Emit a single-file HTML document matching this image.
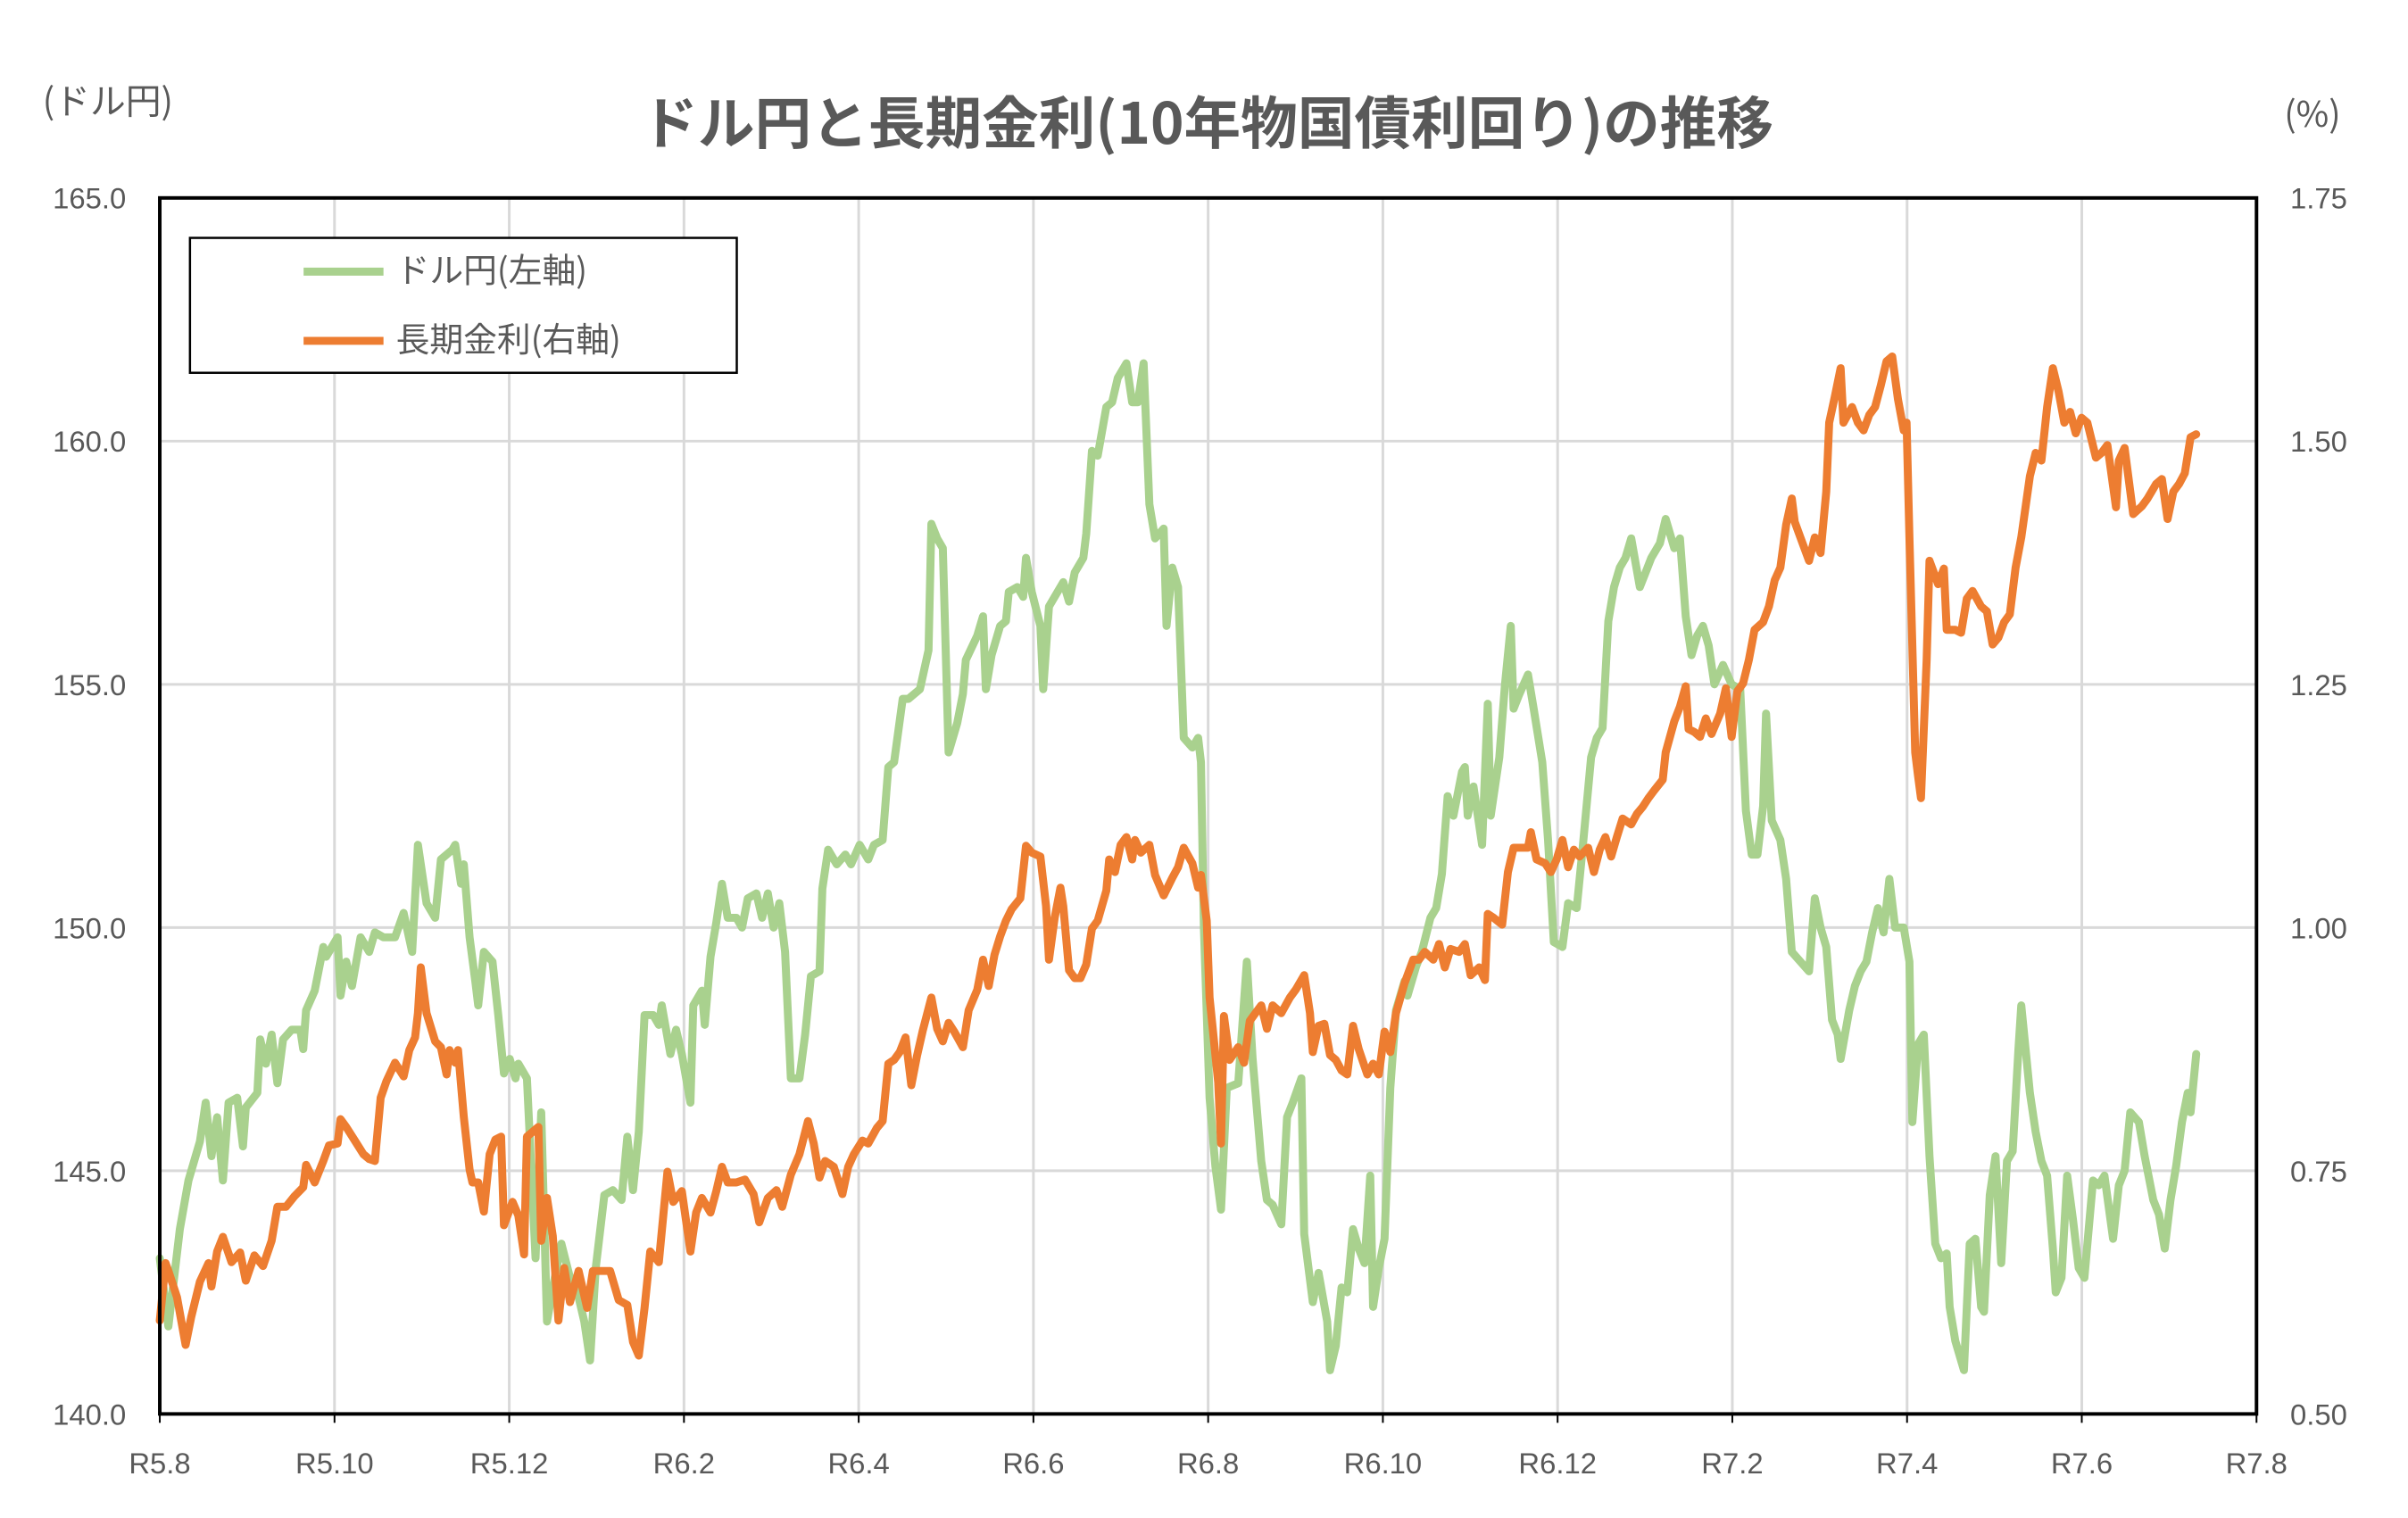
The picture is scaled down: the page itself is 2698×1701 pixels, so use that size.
<!DOCTYPE html>
<html><head><meta charset="utf-8">
<style>
html,body{margin:0;padding:0;background:#fff;}
svg{display:block;font-family:"Liberation Sans","Noto Sans CJK JP",sans-serif;}
</style></head>
<body>
<svg id="chart" width="2698" height="1701" viewBox="0 0 2698 1701" xmlns="http://www.w3.org/2000/svg">
<rect width="2698" height="1701" fill="#ffffff"/>
<g transform="scale(0.9946)">
<text x="1360" y="162" text-anchor="middle" font-size="64" font-weight="bold" fill="#595959" font-family="'Noto Sans CJK JP',sans-serif">ドル円と長期金利(10年物国債利回り)の推移</text>
<text x="48" y="128" font-size="40" fill="#595959" font-family="'Noto Sans CJK JP',sans-serif">(ドル円)</text>
<text x="2637" y="143" text-anchor="end" font-size="40" fill="#595959" font-family="'Noto Sans CJK JP',sans-serif">(%)</text>
<g id="grid"></g>
<g id="series"></g>
<rect x="180" y="223" width="2362" height="1370" fill="none" stroke="#000" stroke-width="4"/>
<g id="axes"></g>
<g>
<rect x="214" y="268" width="616" height="152" fill="#fff" stroke="#000" stroke-width="2.5"/>
<line x1="342" y1="306" x2="432" y2="306" stroke="#a9d18e" stroke-width="9"/>
<text x="446" y="318" font-size="38" fill="#595959" font-family="'Noto Sans CJK JP',sans-serif">ドル円(左軸)</text>
<line x1="342" y1="384" x2="432" y2="384" stroke="#ed7d31" stroke-width="9"/>
<text x="446" y="396" font-size="38" fill="#595959" font-family="'Noto Sans CJK JP',sans-serif">長期金利(右軸)</text>
</g>
</g>
</svg>
<script>
const xLabels=["R5.8","R5.10","R5.12","R6.2","R6.4","R6.6","R6.8","R6.10","R6.12","R7.2","R7.4","R7.6","R7.8"];
const leftTicks=["140.0","145.0","150.0","155.0","160.0","165.0"];
const rightTicks=["0.50","0.75","1.00","1.25","1.50","1.75"];
const totalDays=731;
const yenDays=[0,3,7,10,14,16,18,20,22,24,27,29,30,34,35,37,39,41,43,46,49,50,51,54,57,58,62,63,65,67,70,73,75,78,82,85,88,90,93,96,98,102,103,105,106,108,110,111,113,116,118,120,122,124,125,128,131,133,135,138,140,143,146,148,150,152,155,158,161,163,165,167,169,172,174,175,178,180,182,185,186,189,190,192,194,196,198,201,203,205,208,210,212,214,216,218,220,223,225,227,230,231,233,236,239,241,244,247,249,252,254,256,259,261,265,268,269,271,273,275,278,280,281,285,287,288,290,293,295,296,299,301,302,304,307,308,310,312,315,317,319,322,323,325,327,330,332,334,337,339,341,343,345,347,350,351,353,355,357,360,362,363,364,366,368,370,372,376,379,381,384,386,388,391,393,395,398,399,402,404,407,408,410,412,414,416,418,420,422,423,425,427,429,431,434,435,438,440,443,445,447,449,451,454,455,456,458,461,463,464,467,469,471,472,474,477,479,482,484,486,489,491,494,496,499,501,503,505,507,509,511,513,516,518,520,523,525,528,530,532,534,536,538,540,542,545,548,551,553,555,557,559,560,562,565,567,569,572,575,577,579,581,583,585,586,589,591,593,595,597,599,601,603,605,608,610,611,613,615,617,619,621,623,624,626,629,631,633,635,636,638,640,642,644,646,648,649,652,654,656,658,660,661,663,665,667,669,671,674,676,678,681,683,685,687,690,692,695,697,699,701,703,705,707,708,710];
const yenValues=[143.2,141.8,143.8,144.8,145.6,146.4,145.3,146.1,144.8,146.4,146.5,145.5,146.3,146.6,147.7,147.2,147.8,146.8,147.7,147.9,147.9,147.5,148.3,148.7,149.6,149.4,149.8,148.6,149.3,148.8,149.8,149.5,149.9,149.8,149.8,150.3,149.5,151.7,150.5,150.2,151.4,151.6,151.7,150.9,151.3,149.8,148.9,148.4,149.5,149.3,148.2,147.0,147.3,146.9,147.2,146.9,143.2,146.2,141.9,142.9,143.5,142.8,142.4,141.9,141.1,143.0,144.5,144.6,144.4,145.7,144.6,145.8,148.2,148.2,148.0,148.4,147.4,147.9,147.4,146.4,148.4,148.7,148.0,149.4,150.1,150.9,150.2,150.2,150.0,150.6,150.7,150.2,150.7,150.0,150.5,149.5,146.9,146.9,147.8,149.0,149.1,150.8,151.6,151.3,151.5,151.3,151.7,151.4,151.7,151.8,153.3,153.4,154.7,154.7,154.9,155.7,158.3,158.0,157.8,153.6,154.2,154.8,155.5,156.0,156.4,154.9,155.6,156.2,156.3,156.9,157.0,156.8,157.6,156.9,156.2,154.9,156.6,156.8,157.1,156.7,157.3,157.6,158.1,159.8,159.7,160.7,160.8,161.3,161.6,160.8,160.8,161.6,158.7,158.0,158.2,156.2,157.4,157.0,153.9,153.7,153.9,153.4,150.0,146.5,145.1,144.2,146.7,146.8,149.3,147.3,145.2,144.4,144.3,143.9,146.1,146.4,146.9,143.7,142.3,142.9,141.9,140.9,141.4,142.6,142.5,143.8,143.4,143.1,144.9,142.2,143.0,143.6,146.7,148.3,148.9,148.6,149.2,149.5,150.2,150.4,151.1,152.7,152.3,153.2,153.3,152.3,152.9,151.7,154.6,152.3,153.5,155.0,156.2,154.5,154.8,155.2,154.5,153.4,151.8,149.7,149.6,150.5,150.4,151.6,153.5,153.9,154.1,156.3,157.0,157.4,157.6,158.0,157.0,157.3,157.6,157.9,158.4,157.8,158.0,156.4,155.6,156.0,156.2,155.8,155.0,155.4,155.0,154.9,152.4,151.5,151.5,152.5,154.4,152.2,151.8,151.0,149.5,149.3,149.1,150.6,150.0,149.6,148.1,147.8,147.3,148.3,148.8,149.1,149.3,149.9,150.4,149.9,151.0,150.0,150.0,149.3,146.0,147.6,147.8,145.3,143.5,143.2,143.3,142.2,141.5,140.9,143.5,143.6,142.2,142.1,144.5,145.3,143.1,145.2,145.4,147.5,148.4,146.6,145.8,145.2,144.9,143.4,142.5,142.8,144.9,144.0,143.0,142.8,144.8,144.7,144.9,143.6,144.7,145.0,146.2,146.0,145.3,144.4,144.1,143.4,144.4,145.1,146.0,146.6,146.2,147.4];
const rateDays=[0,2,3,6,9,11,14,17,18,20,22,25,28,30,33,36,39,41,44,47,50,51,54,57,59,62,63,65,68,71,73,75,77,79,82,85,87,89,90,91,93,96,98,100,101,103,104,106,108,109,111,113,115,117,119,120,123,125,127,128,132,133,135,137,139,141,143,146,149,151,154,157,160,163,165,167,169,171,174,177,179,182,185,187,189,192,194,196,198,201,204,207,209,212,215,217,220,223,226,228,230,232,235,238,240,242,245,247,250,252,254,256,258,260,262,264,266,269,271,273,275,277,280,282,285,287,289,291,293,295,297,300,302,304,307,309,310,312,314,315,317,319,321,323,325,327,330,331,333,335,337,339,340,342,345,347,350,353,355,357,360,362,363,365,366,369,370,371,373,376,378,380,382,384,386,388,391,394,396,399,401,402,404,406,408,410,412,414,416,418,421,423,425,427,429,431,434,437,439,441,444,446,448,450,453,455,457,460,462,463,465,468,470,472,474,477,478,480,483,485,487,489,491,493,495,498,500,502,504,506,508,510,513,515,517,519,521,524,525,528,530,532,533,535,537,539,541,544,546,548,550,552,554,556,559,561,563,565,567,569,570,572,575,577,579,581,582,584,586,587,590,592,594,596,598,600,602,604,606,608,609,610,612,613,614,616,617,620,622,623,626,628,630,632,635,637,639,641,643,645,647,649,652,654,656,658,660,662,664,666,668,670,672,675,677,679,682,683,685,688,691,693,696,698,700,702,704,706,708,710];
const rateValues=[0.596,0.655,0.647,0.620,0.571,0.600,0.636,0.655,0.631,0.667,0.682,0.656,0.666,0.637,0.663,0.652,0.678,0.713,0.713,0.724,0.733,0.756,0.738,0.760,0.776,0.778,0.803,0.795,0.781,0.767,0.762,0.760,0.825,0.842,0.861,0.847,0.874,0.887,0.912,0.959,0.912,0.883,0.877,0.849,0.874,0.861,0.874,0.805,0.751,0.738,0.738,0.708,0.767,0.782,0.785,0.694,0.718,0.704,0.664,0.785,0.795,0.678,0.722,0.683,0.596,0.650,0.615,0.647,0.609,0.647,0.647,0.647,0.617,0.612,0.574,0.560,0.609,0.667,0.656,0.749,0.718,0.729,0.667,0.707,0.722,0.707,0.729,0.754,0.738,0.738,0.741,0.726,0.697,0.722,0.730,0.713,0.746,0.767,0.801,0.778,0.743,0.760,0.754,0.726,0.754,0.767,0.781,0.778,0.794,0.801,0.860,0.864,0.872,0.887,0.838,0.868,0.894,0.928,0.896,0.883,0.902,0.893,0.877,0.915,0.936,0.967,0.940,0.972,0.991,1.007,1.019,1.030,1.084,1.077,1.073,1.022,0.967,1.010,1.041,1.022,0.956,0.948,0.948,0.962,0.999,1.007,1.038,1.070,1.057,1.085,1.093,1.070,1.090,1.077,1.085,1.054,1.033,1.051,1.062,1.082,1.066,1.041,1.054,1.007,0.928,0.841,0.778,0.909,0.864,0.877,0.861,0.904,0.912,0.920,0.896,0.920,0.912,0.928,0.936,0.951,0.912,0.872,0.899,0.901,0.869,0.864,0.853,0.849,0.899,0.875,0.849,0.860,0.849,0.893,0.872,0.912,0.943,0.967,0.967,0.975,0.967,0.983,0.959,0.978,0.975,0.983,0.951,0.959,0.946,1.014,1.010,1.003,1.057,1.082,1.082,1.082,1.098,1.070,1.066,1.057,1.070,1.090,1.062,1.080,1.073,1.082,1.057,1.080,1.093,1.073,1.093,1.112,1.106,1.117,1.124,1.133,1.141,1.152,1.180,1.212,1.227,1.248,1.204,1.201,1.196,1.215,1.199,1.220,1.246,1.196,1.243,1.251,1.275,1.306,1.314,1.330,1.357,1.370,1.414,1.441,1.417,1.401,1.377,1.401,1.385,1.448,1.519,1.546,1.575,1.519,1.535,1.519,1.511,1.527,1.535,1.557,1.582,1.587,1.543,1.511,1.519,1.401,1.180,1.156,1.133,1.275,1.377,1.353,1.369,1.306,1.306,1.303,1.338,1.346,1.330,1.325,1.291,1.298,1.314,1.322,1.370,1.401,1.464,1.488,1.480,1.535,1.575,1.551,1.519,1.530,1.508,1.524,1.519,1.483,1.488,1.496,1.432,1.480,1.493,1.425,1.433,1.441,1.456,1.461,1.420,1.448,1.456,1.467,1.504,1.507];

const NS="http://www.w3.org/2000/svg";
const L=180,R=2542,T=223,B=1593;
function xDay(d){return L+d/totalDays*(R-L);}
function xCat(i){return L+i/(xLabels.length-1)*(R-L);}
function yLeft(v){return B-(v-140)/25*(B-T);}
function yRight(v){return B-(v-0.5)/1.25*(B-T);}
function mk(tag,attrs,parent){const e=document.createElementNS(NS,tag);for(const k in attrs)e.setAttribute(k,attrs[k]);parent.appendChild(e);return e;}
const grid=document.getElementById('grid'),axes=document.getElementById('axes'),series=document.getElementById('series');
leftTicks.forEach((t,i)=>{
  const y=B-i/(leftTicks.length-1)*(B-T);
  const g=mk('line',{x1:L,x2:R,y1:y,y2:y,stroke:'#d9d9d9','stroke-width':3},grid);
  
  
  const a=mk('text',{x:142,y:y+12,'text-anchor':'end','font-size':33,fill:'#595959'},axes);
  a.textContent=t;
  
  
  const b=mk('text',{x:2580,y:y+12,'font-size':33,fill:'#595959'},axes);
  b.textContent=rightTicks[i];
  
  
});
xLabels.forEach((t,i)=>{
  const x=xCat(i);
  const g=mk('line',{x1:x,x2:x,y1:T,y2:B,stroke:'#d9d9d9','stroke-width':3},grid);
  
  
  const tk=mk('line',{x1:x,x2:x,y1:B,y2:B+10,stroke:'#000','stroke-width':2},axes);
  
  
  const a=mk('text',{x:x,y:1660,'text-anchor':'middle','font-size':33,fill:'#595959'},axes);
  a.textContent=t;
  
  
});
function line(days,vals,yf,color,name){
  const pts=days.map((d,i)=>xDay(d).toFixed(1)+','+yf(vals[i]).toFixed(1)).join(' ');
  const p=mk('polyline',{points:pts,fill:'none',stroke:color,'stroke-width':9,'stroke-linejoin':'round','stroke-linecap':'round'},series);
  
  
}
line(yenDays,yenValues,yLeft,'#a9d18e','usdjpy-line');
line(rateDays,rateValues,yRight,'#ed7d31','jgb-yield-line');
</script>
</body></html>
